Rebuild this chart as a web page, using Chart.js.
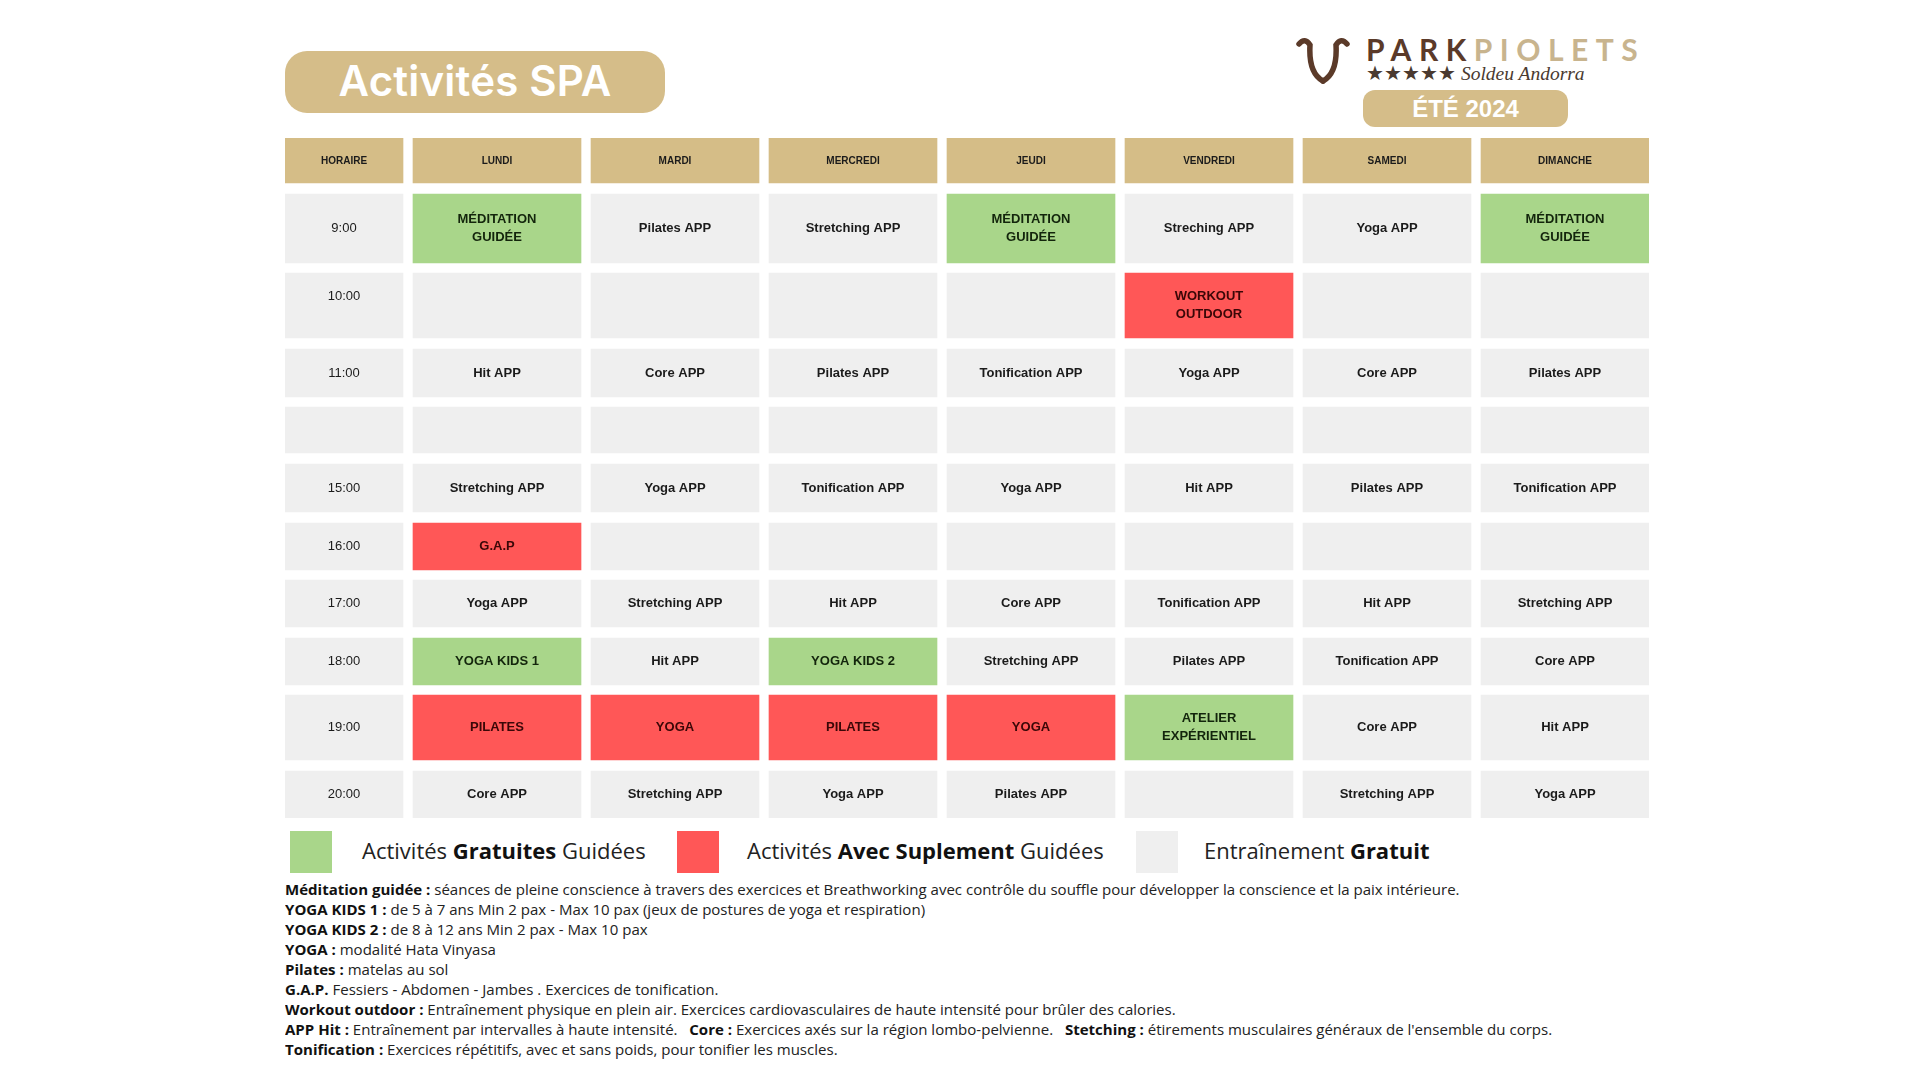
<!DOCTYPE html>
<html lang="fr">
<head>
<meta charset="utf-8">
<title>Activités SPA</title>
<script src="https://cdn.jsdelivr.net/npm/chart.js@4.4.1/dist/chart.umd.min.js"></script>
<style>
  html, body { margin: 0; padding: 0; background: #fff; }
  body { width: 1920px; height: 1080px; position: relative; overflow: hidden; font-family: "Open Sans", sans-serif; color: #222; }
  .pill { position: absolute; background: #d5bd89; color: #fff; display: flex; align-items: center; justify-content: center; }
  #title { left: 285px; top: 51px; width: 380px; height: 62px; border-radius: 22px; font: 600 42px Inter, sans-serif; letter-spacing: 0.2px; padding-bottom: 4px; box-sizing: border-box; }
  #season { left: 1363px; top: 90px; width: 205px; height: 37px; border-radius: 12px; font: 700 24px "Liberation Sans", Arial, sans-serif; }
  #shield { position: absolute; left: 1296px; top: 36px; }
  #brand { position: absolute; left: 1366px; top: 33px; font: 700 30px Lato, sans-serif; letter-spacing: 7.5px; line-height: 32px; color: #5b3a29; }
  #brand span { color: #c8b48e; }
  #stars { position: absolute; left: 1366px; top: 62px; font: 19.5px "Liberation Serif", serif; line-height: 24px; color: #4a3a30; }
  #stars i { font-style: italic; }
  #table-wrap { position: absolute; left: 285px; top: 138px; width: 1364px; height: 680px; }
  .sq { position: absolute; top: 831px; width: 42px; height: 42px; }
  .lg { position: absolute; top: 829px; height: 42px; line-height: 42px; font-size: 22px; color: #222; white-space: nowrap; }
  .lg b { font-weight: 700; color: #111; }
  #notes { position: absolute; left: 285px; top: 879px; font-size: 15px; line-height: 20px; color: #222; white-space: nowrap; transform-origin: 0 0; }
  #notes b { color: #111; }
</style>
</head>
<body>
<div id="title" class="pill">Activités SPA</div>

<svg id="shield" width="54" height="48" viewBox="0 0 54 48">
  <path d="M3 8 Q9 1 14 9 C13 26 16 39 27 45" fill="none" stroke="#5b3a29" stroke-width="5.5" stroke-linecap="round"/>
  <path d="M51 8 Q45 1 40 9 C41 26 38 39 27 45" fill="none" stroke="#5b3a29" stroke-width="5.5" stroke-linecap="round"/>
</svg>
<div id="brand">PARK<span>PIOLETS</span></div>
<div id="stars">★★★★★ <i>Soldeu Andorra</i></div>
<div id="season" class="pill">ÉTÉ 2024</div>

<div id="table-wrap"><canvas id="planning"></canvas></div>

<div class="sq" style="left:290px;background:#a9d68a"></div>
<div class="lg" style="left:362px">Activités <b>Gratuites</b> Guidées</div>
<div class="sq" style="left:677px;background:#ff5757"></div>
<div class="lg" style="left:747px">Activités <b>Avec Suplement</b> Guidées</div>
<div class="sq" style="left:1136px;background:#efefef"></div>
<div class="lg" style="left:1204px">Entraînement <b>Gratuit</b></div>

<div id="notes">
  <div id="note1"><b>Méditation guidée :</b> séances de pleine conscience à travers des exercices et Breathworking avec contrôle du souffle pour développer la conscience et la paix intérieure.</div>
  <div><b>YOGA KIDS 1 :</b> de 5 à 7 ans Min 2 pax - Max 10 pax (jeux de postures de yoga et respiration)</div>
  <div><b>YOGA KIDS 2 :</b> de 8 à 12 ans Min 2 pax - Max 10 pax</div>
  <div><b>YOGA :</b> modalité Hata Vinyasa</div>
  <div><b>Pilates :</b> matelas au sol</div>
  <div><b>G.A.P.</b> Fessiers - Abdomen - Jambes . Exercices de tonification.</div>
  <div><b>Workout outdoor :</b> Entraînement physique en plein air. Exercices cardiovasculaires de haute intensité pour brûler des calories.</div>
  <div><b>APP Hit :</b> Entraînement par intervalles à haute intensité.&nbsp;&nbsp; <b>Core :</b> Exercices axés sur la région lombo-pelvienne.&nbsp;&nbsp; <b>Stetching :</b> étirements musculaires généraux de l'ensemble du corps.</div>
  <div><b>Tonification :</b> Exercices répétitifs, avec et sans poids, pour tonifier les muscles.</div>
</div>

<script>
// column headers and time slots
const headers = ['HORAIRE', 'LUNDI', 'MARDI', 'MERCREDI', 'JEUDI', 'VENDREDI', 'SAMEDI', 'DIMANCHE'];
const timeSlots = ['9:00', '10:00', '11:00', '', '15:00', '16:00', '17:00', '18:00', '19:00', '20:00'];

// activities per day, one entry per time slot
const lundi    = ['MÉDITATION\nGUIDÉE', '', 'Hit APP', '', 'Stretching APP', 'G.A.P', 'Yoga APP', 'YOGA KIDS 1', 'PILATES', 'Core APP'];
const mardi    = ['Pilates APP', '', 'Core APP', '', 'Yoga APP', '', 'Stretching APP', 'Hit APP', 'YOGA', 'Stretching APP'];
const mercredi = ['Stretching APP', '', 'Pilates APP', '', 'Tonification APP', '', 'Hit APP', 'YOGA KIDS 2', 'PILATES', 'Yoga APP'];
const jeudi    = ['MÉDITATION\nGUIDÉE', '', 'Tonification APP', '', 'Yoga APP', '', 'Core APP', 'Stretching APP', 'YOGA', 'Pilates APP'];
const vendredi = ['Streching APP', 'WORKOUT\nOUTDOOR', 'Yoga APP', '', 'Hit APP', '', 'Tonification APP', 'Pilates APP', 'ATELIER\nEXPÉRIENTIEL', ''];
const samedi   = ['Yoga APP', '', 'Core APP', '', 'Pilates APP', '', 'Hit APP', 'Tonification APP', 'Core APP', 'Stretching APP'];
const dimanche = ['MÉDITATION\nGUIDÉE', '', 'Pilates APP', '', 'Tonification APP', '', 'Stretching APP', 'Core APP', 'Hit APP', 'Yoga APP'];

// kind of session: 0 = entraînement gratuit, 1 = activité gratuite guidée, 2 = activité avec supplément
const lundiKind    = [1, 0, 0, 0, 0, 2, 0, 1, 2, 0];
const mardiKind    = [0, 0, 0, 0, 0, 0, 0, 0, 2, 0];
const mercrediKind = [0, 0, 0, 0, 0, 0, 0, 1, 2, 0];
const jeudiKind    = [1, 0, 0, 0, 0, 0, 0, 0, 2, 0];
const vendrediKind = [0, 2, 0, 0, 0, 0, 0, 0, 1, 0];
const samediKind   = [0, 0, 0, 0, 0, 0, 0, 0, 0, 0];
const dimancheKind = [1, 0, 0, 0, 0, 0, 0, 0, 0, 0];

const columns = [timeSlots, lundi, mardi, mercredi, jeudi, vendredi, samedi, dimanche];
const kinds = [null, lundiKind, mardiKind, mercrediKind, jeudiKind, vendrediKind, samediKind, dimancheKind];

// layout (px)
const colWidths = [118, 168, 168, 168, 168, 168, 168, 168];
const colGap = 10;
const rowHeights = [45, 69, 65, 48, 46, 48, 47, 47, 47, 65, 47];
const rowGap = 10.6;
const kindColors = ['#efefef', '#a9d68a', '#ff5757'];
const kindText = ['#1b1b1b', '#13250c', '#3a0707'];

const colCenters = [];
let cx = 0;
colWidths.forEach(w => { colCenters.push(cx + w / 2); cx += w + colGap; });
const rowEdges = [];
let ry = 0;
rowHeights.forEach(h => { rowEdges.push([Math.round(ry), Math.round(ry + h)]); ry += h + rowGap; });

const datasets = columns.map((col, c) => {
  const labels = [headers[c]].concat(col);
  return {
    label: headers[c],
    cellLabels: labels,
    data: labels.map((_, r) => ({ x: colCenters[c], y: rowEdges[r] })),
    backgroundColor: labels.map((_, r) => r === 0 ? '#d5bd87' : (c === 0 ? '#efefef' : kindColors[kinds[c][r - 1]])),
    textColor: labels.map((_, r) => (r === 0 || c === 0) ? '#1b1b1b' : kindText[kinds[c][r - 1]]),
    barThickness: colWidths[c],
    grouped: false,
    borderWidth: 0,
    borderSkipped: false
  };
});

const cellText = {
  id: 'cellText',
  afterDatasetsDraw(chart) {
    const ctx = chart.ctx;
    ctx.save();
    ctx.textAlign = 'center';
    ctx.textBaseline = 'middle';
    chart.data.datasets.forEach((ds, d) => {
      chart.getDatasetMeta(d).data.forEach((bar, i) => {
        const text = ds.cellLabels[i];
        if (!text) return;
        const p = bar.getProps(['x', 'y', 'base'], true);
        let cy = (p.y + p.base) / 2;
        if (i === 0) { ctx.font = 'bold 10px "Liberation Sans", Arial, sans-serif'; cy += 1; }
        else if (d === 0) ctx.font = '13px "Liberation Sans", Arial, sans-serif';
        else ctx.font = 'bold 13px "Liberation Sans", Arial, sans-serif';
        if (d === 0 && i === 2) cy -= 9;
        ctx.fillStyle = ds.textColor[i];
        const lines = text.split('\n');
        lines.forEach((ln, k) => ctx.fillText(ln, p.x, cy + (k - (lines.length - 1) / 2) * 18));
      });
    });
    ctx.restore();
  }
};

const planning = new Chart(document.getElementById('planning'), {
  type: 'bar',
  data: { datasets: datasets },
  options: {
    responsive: true,
    maintainAspectRatio: false,
    animation: false,
    devicePixelRatio: 1,
    layout: { padding: 0 },
    plugins: { legend: { display: false }, tooltip: { enabled: false } },
    scales: {
      x: { type: 'linear', min: 0, max: 1364, offset: false, display: false },
      y: { type: 'linear', min: 0, max: 680, reverse: true, display: false }
    }
  },
  plugins: [cellText]
});

// the notes in the reference are set a bit narrower than plain Open Sans
const notes = document.getElementById('notes');
const range = document.createRange();
range.selectNodeContents(document.getElementById('note1'));
const textWidth = range.getBoundingClientRect().width;
notes.style.transform = 'scaleX(' + (1175 / textWidth).toFixed(3) + ')';
</script>
</body>
</html>
